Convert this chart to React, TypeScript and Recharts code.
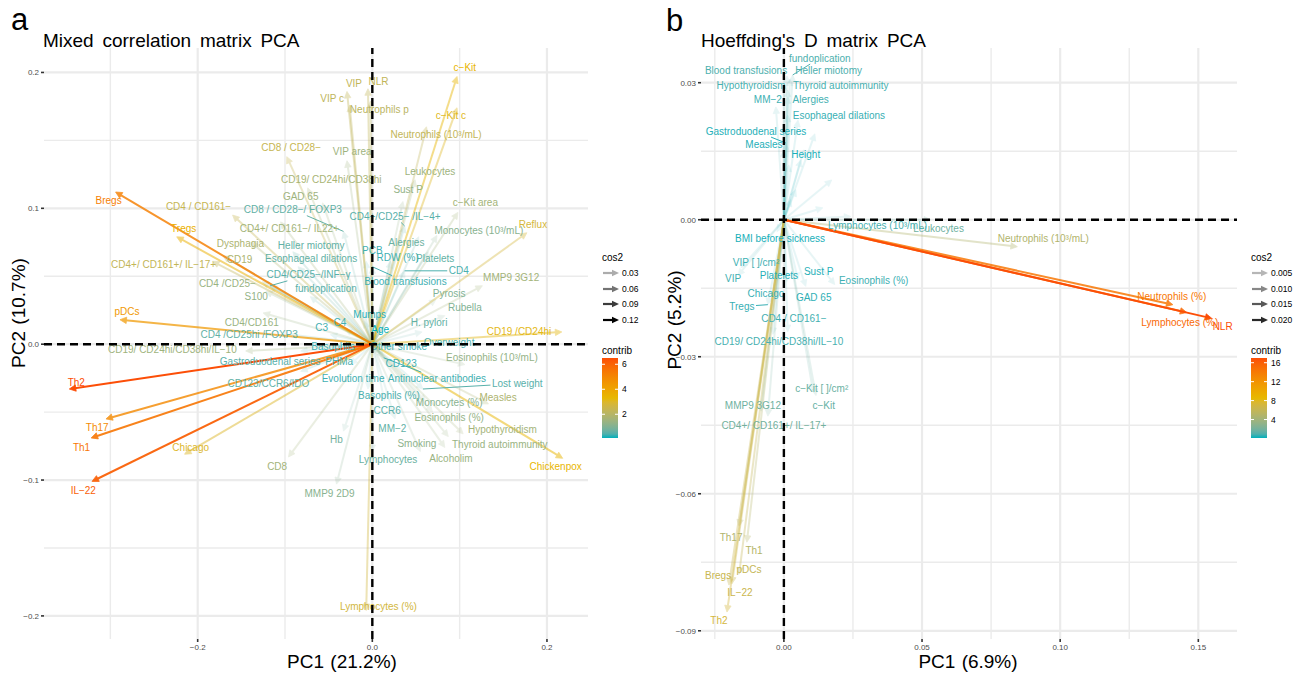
import React from 'react';
import { ScatterChart, Scatter, XAxis, YAxis, ReferenceLine } from 'recharts';

const FONT = '"Liberation Sans", Arial, Helvetica, sans-serif';

// ---------------- Panel a : Mixed correlation matrix PCA ----------------
const namesA = [
  'Bregs', 'Tregs', 'pDCs', 'Th2', 'Th17', 'Th1', 'IL−22', 'Chicago', 'CD8', 'MMP9 2D9',
  'Hb', 'Lymphocytes (%)', 'Lymphocytes', 'Smoking', 'Alcoholim', 'Thyroid autoimmunity', 'Hypothyroidism', 'Eosinophils (%)', 'Monocytes (%)', 'MM−2',
  'CCR6', 'Basophils (%)', 'Measles', 'Lost weight', 'Chickenpox', 'Eosinophils (10³/mL)', 'Antinuclear antibodies', 'CD123', 'Overweight', 'Other smoke',
  'Basophils', 'Evolution time', 'Gastroduodenal series', 'PHMa', 'CD123/CCR6/IDO', 'CD19/ CD24hi/CD38hi/IL−10', 'CD4 /CD25hi /FOXP3', 'CD4/CD161', 'C3', 'C4',
  'Mumps', 'Age', 'H. pylori', 'Rubella', 'Pyrosis', 'MMP9 3G12', 'CD19 /CD24hi', 'CD4', 'Blood transfusions', 'Platelets',
  'RDW (%)', 'PCB', 'Alergies', 'Monocytes (10³/mL)', 'Reflux', 'c−Kit area', 'CD4+/CD25− /IL−4+', 'Sust P', 'Leukocytes', 'Neutrophils (10³/mL)',
  'c−Kit c', 'c−Kit', 'Neutrophils p', 'NLR', 'VIP', 'VIP c', 'VIP area', 'CD19/ CD24hi/CD38hi', 'GAD 65', 'CD8 / CD28−',
  'CD4 / CD161−', 'CD8 / CD28−/ FOXP3', 'CD4+/ CD161−/ IL22+', 'Dysphagia', 'Heller miotomy', 'CD19', 'CD4+/ CD161+/ IL−17+', 'Esophageal dilations', 'CD4 /CD25−', 'CD4/CD25−/INF−γ',
  'fundoplication', 'S100',
];
const pc1A = [
  -0.294, -0.224, -0.289, -0.347, -0.305, -0.322, -0.321, -0.215, -0.096, -0.041,
  -0.033, -0.007, 0.0, 0.055, 0.083, 0.087, 0.104, 0.069, 0.061, 0.026,
  0.014, -0.005, 0.133, 0.058, 0.218, 0.106, 0.013, 0.009, 0.055, 0.026,
  -0.031, -0.025, -0.082, -0.042, -0.082, -0.145, -0.094, -0.125, -0.048, -0.031,
  -0.009, 0.005, 0.057, 0.083, 0.073, 0.126, 0.217, 0.037, 0.0, 0.064,
  0.021, -0.007, 0.053, 0.074, 0.177, 0.098, 0.037, 0.035, 0.049, 0.062,
  0.097, 0.097, -0.002, -0.005, -0.029, -0.026, -0.029, -0.074, -0.057, -0.098,
  -0.16, -0.033, -0.105, -0.139, -0.091, -0.171, -0.183, -0.085, -0.126, -0.117,
  -0.071, -0.122,
];
const pc2A = [
  0.112, 0.079, 0.018, -0.033, -0.055, -0.069, -0.101, -0.081, -0.083, -0.103,
  -0.064, -0.196, -0.079, -0.079, -0.076, -0.068, -0.066, -0.05, -0.042, -0.055,
  -0.042, -0.033, -0.044, -0.033, -0.084, -0.015, -0.01, -0.007, -0.001, -0.004,
  -0.004, -0.015, -0.005, -0.007, -0.02, -0.005, 0.007, 0.023, 0.007, 0.011,
  0.017, 0.007, 0.009, 0.021, 0.033, 0.043, 0.009, 0.054, 0.057, 0.068,
  0.061, 0.061, 0.079, 0.08, 0.082, 0.097, 0.087, 0.105, 0.121, 0.16,
  0.174, 0.197, 0.179, 0.188, 0.186, 0.176, 0.135, 0.115, 0.104, 0.138,
  0.095, 0.083, 0.09, 0.075, 0.068, 0.065, 0.061, 0.057, 0.046, 0.043,
  0.035, 0.039,
];
const contribA = [
  5.2, 3.6, 4.4, 6.5, 4.9, 5.5, 6.1, 3.0, 1.6, 1.1,
  0.8, 2.7, 0.7, 1.2, 1.4, 1.4, 1.6, 1.3, 1.1, 0.6,
  0.5, 0.4, 1.8, 0.5, 3.4, 1.3, 0.3, 0.3, 0.4, 0.3,
  0.3, 0.3, 0.5, 0.4, 0.6, 1.5, 0.6, 1.4, 0.3, 0.3,
  0.2, 0.1, 0.6, 1.0, 1.0, 1.6, 3.2, 0.4, 0.3, 0.6,
  0.3, 0.3, 0.7, 1.1, 2.8, 1.6, 0.5, 1.3, 1.5, 2.3,
  3.1, 3.4, 2.1, 2.3, 2.3, 2.2, 1.5, 1.7, 1.5, 2.4,
  2.4, 0.6, 1.6, 1.8, 0.6, 1.8, 2.3, 0.6, 1.4, 0.5,
  0.5, 1.3,
];
// repelled label anchors (PC1, PC2)
const labelA: ([number, number] | null)[] = [
  [-0.302, 0.106], [-0.216, 0.085], [-0.281, 0.024], [-0.339, -0.028], [-0.315, -0.061], [-0.333, -0.076], [-0.331, -0.108], [-0.208, -0.076], [-0.109, -0.09], [-0.049, -0.11],
  [-0.041, -0.07], [0.007, -0.193], [0.018, -0.085], [0.051, -0.073], [0.09, -0.084], [0.146, -0.074], [0.149, -0.063], [0.088, -0.054], [0.088, -0.043], [0.023, -0.062],
  [0.017, -0.049], [0.019, -0.038], [0.144, -0.039], [0.166, -0.029], [0.21, -0.09], [0.137, -0.01], [0.074, -0.025], [0.033, -0.014], [0.088, 0.001], [0.03, -0.002],
  [-0.045, -0.002], [-0.022, -0.025], [-0.117, -0.013], [-0.038, -0.013], [-0.119, -0.029], [-0.229, -0.004], [-0.141, 0.007], [-0.138, 0.016], [-0.058, 0.012], [-0.037, 0.016],
  [-0.003, 0.022], [0.009, 0.011], [0.065, 0.016], [0.106, 0.027], [0.088, 0.037], [0.159, 0.049], [0.168, 0.009], [0.099, 0.054], [0.038, 0.046], [0.072, 0.063],
  [0.029, 0.064], [0.0, 0.069], [0.039, 0.075], [0.122, 0.084], [0.184, 0.088], [0.118, 0.104], [0.026, 0.094], [0.041, 0.114], [0.066, 0.127], [0.073, 0.154],
  [0.09, 0.168], [0.106, 0.204], [0.008, 0.173], [0.007, 0.193], [-0.021, 0.192], [-0.046, 0.181], [-0.023, 0.142], [-0.047, 0.121], [-0.082, 0.109], [-0.093, 0.145],
  [-0.199, 0.101], [-0.091, 0.099], [-0.095, 0.085], [-0.151, 0.074], [-0.07, 0.073], [-0.152, 0.062], [-0.239, 0.059], [-0.07, 0.063], [-0.166, 0.045], [-0.073, 0.051],
  [-0.053, 0.041], [-0.133, 0.035],
];
const leadersA = ['Lost weight', 'Antinuclear antibodies', 'CD4', 'Blood transfusions', 'CD4+/CD25− /IL−4+', 'CD8 / CD28−/ FOXP3', 'CD4/CD25−/INF−γ'];
const xTicksA = [-0.2, 0, 0.2];
const xMinorA = [-0.3, -0.1, 0.1];
const yTicksA = [-0.2, -0.1, 0, 0.1, 0.2];
const yMinorA = [-0.15, -0.05, 0.05, 0.15];
const cos2BreaksA = [0.03, 0.06, 0.09, 0.12];
const contribBreaksA = [2, 4, 6];

// ---------------- Panel b : Hoeffding's D matrix PCA ----------------
const namesB = [
  'NLR', 'Lymphocytes (%)', 'Neutrophils (%)', 'Neutrophils (10³/mL)', 'Leukocytes', 'Lymphocytes (10³/mL)', 'BMI before sickness', 'VIP [ ]/cm²', 'VIP', 'Platelets',
  'Sust P', 'Eosinophils (%)', 'Chicago', 'GAD 65', 'Tregs', 'CD4 / CD161−', 'CD19/ CD24hi/CD38hi/IL−10', 'c−Kit [ ]/cm²', 'c−Kit', 'MMP9 3G12',
  'CD4+/ CD161+/ IL−17+', 'Th17', 'Th1', 'pDCs', 'Bregs', 'IL−22', 'Th2', 'fundoplication', 'Blood transfusions', 'Heller miotomy',
  'Hypothyroidism', 'Thyroid autoimmunity', 'MM−2', 'Alergies', 'Esophageal dilations', 'Gastroduodenal series', 'Measles', 'Height', '', '',
  '', '', '', '', '', '',
];
const pc1B = [
  0.1549, 0.1458, 0.1408, 0.0845, 0.0531, 0.0242, -0.0025, -0.0155, -0.0166, 0.0011,
  0.0051, 0.0184, -0.0032, 0.0079, -0.0058, 0.0014, -0.004, 0.0116, 0.0105, -0.0083,
  -0.0058, -0.0162, -0.0134, -0.0162, -0.0188, -0.0199, -0.0206, 0.0032, 0.0011, 0.0022,
  0.0, 0.0014, -0.0029, 0.0014, 0.0014, 0.0007, 0.0, 0.0018, 0.0112, 0.0173,
  0.0141, 0.0061, 0.0043, 0.0051, 0.0072, 0.0025,
];
const pc2B = [
  -0.0216, -0.0203, -0.0186, -0.0059, 0.0, 0.0007, -0.0026, -0.0105, -0.0122, -0.0135,
  -0.0131, -0.0142, -0.0175, -0.0146, -0.0186, -0.0245, -0.0251, -0.0385, -0.0374, -0.0419,
  -0.043, -0.0671, -0.0706, -0.0776, -0.0797, -0.08, -0.0859, 0.0317, 0.0315, 0.0308,
  0.0297, 0.0284, 0.0247, 0.0269, 0.0229, 0.0168, 0.0153, 0.012, 0.0188, 0.0087,
  0.0026, 0.0131, 0.0066, 0.0218, 0.0153, 0.0044,
];
const contribB = [
  17.0, 15.3, 14.3, 4.8, 1.8, 0.8, 0.2, 0.6, 0.7, 0.3,
  0.3, 0.6, 0.5, 0.4, 0.5, 0.7, 0.8, 1.6, 1.5, 1.8,
  1.9, 4.8, 5.0, 6.0, 6.3, 6.4, 7.1, 0.9, 0.9, 0.9,
  0.8, 0.8, 0.6, 0.7, 0.5, 0.3, 0.3, 0.2, 0.4, 0.4,
  0.3, 0.2, 0.1, 0.4, 0.3, 0.1,
];
const labelB: ([number, number] | null)[] = [
  [0.1588, -0.0234], [0.1433, -0.0225], [0.1404, -0.0168], [0.0939, -0.0042], [0.056, -0.002], [0.0339, -0.0013], [-0.0014, -0.0042], [-0.0101, -0.0094], [-0.0184, -0.0129], [-0.0018, -0.0122],
  [0.0126, -0.0114], [0.0325, -0.0133], [-0.0065, -0.0162], [0.0108, -0.017], [-0.0152, -0.019], [0.0036, -0.0216], [-0.0018, -0.0267], [0.0137, -0.0369], [0.0144, -0.0406], [-0.0112, -0.0406],
  [-0.0036, -0.045], [-0.0191, -0.0695], [-0.0108, -0.0725], [-0.0126, -0.0765], [-0.0238, -0.0778], [-0.0159, -0.0817], [-0.0235, -0.0878], [0.013, 0.0354], [-0.0137, 0.0326], [0.0162, 0.0326],
  [-0.0119, 0.0293], [0.0206, 0.0293], [-0.0058, 0.0264], [0.0097, 0.0264], [0.0199, 0.0229], [-0.0101, 0.0194], [-0.0072, 0.0164], [0.0079, 0.0142], null, null,
  null, null, null, null, null, null,
];
const leadersB = ['fundoplication', 'Tregs', 'Gastroduodenal series'];
const xTicksB = [0, 0.05, 0.1, 0.15];
const xMinorB = [-0.025, 0.025, 0.075, 0.125];
const yTicksB = [-0.09, -0.06, -0.03, 0, 0.03];
const yMinorB = [-0.075, -0.045, -0.015, 0.015];
const cos2BreaksB = [0.005, 0.01, 0.015, 0.02];
const contribBreaksB = [4, 8, 12, 16];

// ---------------- colour helpers (Lab interpolation like ggplot) ----------------
const hexRgb = (h: string) => [parseInt(h.slice(1, 3), 16), parseInt(h.slice(3, 5), 16), parseInt(h.slice(5, 7), 16)];
const lin = (c: number) => { c /= 255; return c <= 0.04045 ? c / 12.92 : Math.pow((c + 0.055) / 1.055, 2.4); };
const XN = 0.95047, YN = 1, ZN = 1.08883;
function toLab(rgb: number[]) {
  const [R, G, B] = rgb.map(lin);
  const X = (R * 0.4124 + G * 0.3576 + B * 0.1805) / XN;
  const Y = (R * 0.2126 + G * 0.7152 + B * 0.0722) / YN;
  const Z = (R * 0.0193 + G * 0.1192 + B * 0.9505) / ZN;
  const f = (t: number) => (t > 0.008856 ? Math.cbrt(t) : 7.787 * t + 16 / 116);
  const fx = f(X), fy = f(Y), fz = f(Z);
  return [116 * fy - 16, 500 * (fx - fy), 200 * (fy - fz)];
}
function fromLab(lab: number[]) {
  const [L, a, b] = lab;
  const fy = (L + 16) / 116, fx = fy + a / 500, fz = fy - b / 200;
  const inv = (t: number) => (t * t * t > 0.008856 ? t * t * t : (t - 16 / 116) / 7.787);
  const X = XN * inv(fx), Y = YN * inv(fy), Z = ZN * inv(fz);
  const r = 3.2406 * X - 1.5372 * Y - 0.4986 * Z;
  const g = -0.9689 * X + 1.8758 * Y + 0.0415 * Z;
  const bb = 0.0557 * X - 0.204 * Y + 1.057 * Z;
  const gam = (c: number) => {
    const v = c <= 0.0031308 ? 12.92 * c : 1.055 * Math.pow(c, 1 / 2.4) - 0.055;
    return Math.round(Math.max(0, Math.min(1, v)) * 255);
  };
  return `rgb(${gam(r)},${gam(g)},${gam(bb)})`;
}
const STOPS = ['#00AFBB', '#E7B800', '#FC4E07'].map((h) => toLab(hexRgb(h)));
function gradColor(t: number) {
  const tt = Math.max(0, Math.min(1, t)) * 2;
  const i = Math.min(1, Math.floor(tt));
  const f = tt - i;
  const a = STOPS[i], b = STOPS[i + 1];
  return fromLab([a[0] + (b[0] - a[0]) * f, a[1] + (b[1] - a[1]) * f, a[2] + (b[2] - a[2]) * f]);
}

let ctx: CanvasRenderingContext2D | null = null;
function textWidth(s: string, size: number) {
  if (!ctx && typeof document !== 'undefined') ctx = document.createElement('canvas').getContext('2d');
  if (!ctx) return s.length * size * 0.5;
  ctx.font = `${size}px ${FONT}`;
  return ctx.measureText(s).width;
}

function stats(pc1: number[], pc2: number[], contrib: number[]) {
  const cos2 = pc1.map((x, i) => x * x + pc2[i] * pc2[i]);
  const cMin = Math.min(...cos2), cMax = Math.max(...cos2);
  const kMin = Math.min(...contrib), kMax = Math.max(...contrib);
  return {
    cos2, kMin, kMax,
    alphaOf: (v: number) => 0.1 + 0.9 * Math.max(0, Math.min(1, (v - cMin) / (cMax - cMin))),
    colorOf: (k: number) => gradColor((k - kMin) / (kMax - kMin)),
  };
}

const arrowShape = (color: string, alpha: number) => (p: any) => {
  const x1 = Number(p.x1), y1 = Number(p.y1), x2 = Number(p.x2), y2 = Number(p.y2);
  const dx = x2 - x1, dy = y2 - y1;
  const len = Math.hypot(dx, dy) || 1;
  const ux = dx / len, uy = dy / len;
  const L = 6.5, W = 3.2;
  const bx = x2 - ux * L, by = y2 - uy * L;
  const pts = `${x2},${y2} ${bx - uy * W},${by + ux * W} ${bx + uy * W},${by - ux * W}`;
  return (
    <g opacity={alpha}>
      <line x1={x1} y1={y1} x2={bx + ux * 1} y2={by + uy * 1} stroke={color} strokeWidth={2} />
      <polygon points={pts} fill={color} stroke={color} strokeWidth={0.8} strokeLinejoin="round" />
    </g>
  );
};

const leaderShape = (name: string, color: string) => (p: any) => {
  const x1 = Number(p.x1), y1 = Number(p.y1), x2 = Number(p.x2), y2 = Number(p.y2);
  const hw = textWidth(name, 10) / 2 + 1.5, hh = 6;
  const dx = x1 - x2, dy = y1 - y2;
  const t = Math.min(dx !== 0 ? hw / Math.abs(dx) : Infinity, dy !== 0 ? hh / Math.abs(dy) : Infinity);
  if (!(t < 1)) return <g />;
  return <line x1={x2 + dx * t} y1={y2 + dy * t} x2={x1} y2={y1} stroke={color} strokeWidth={1} />;
};

type PanelProps = {
  left: number; width: number; height: number;
  margin: { top: number; right: number; bottom: number; left: number };
  xDomain: [number, number]; yDomain: [number, number];
  xTicks: number[]; yTicks: number[]; xMinor: number[]; yMinor: number[];
  digits: number;
  names: string[]; pc1: number[]; pc2: number[]; contrib: number[];
  labels: ([number, number] | null)[]; leaders: string[];
};

const fmt = (d: number) => (v: number) => (v < -1e-9 ? '−' : '') + Math.abs(v).toFixed(d);

function Panel(props: PanelProps) {
  const { names, pc1, pc2, contrib, labels, leaders } = props;
  const st = stats(pc1, pc2, contrib);
  const order = names.map((_, i) => i).sort((a, b) => st.cos2[a] - st.cos2[b]);
  const labelData = names
    .map((n, i) => (labels[i] && n ? { x: labels[i]![0], y: labels[i]![1], name: n, color: st.colorOf(contrib[i]) } : null))
    .filter(Boolean) as any[];
  const gridColor = '#EBEBEB';
  return (
    <div style={{ position: 'absolute', left: props.left, top: 0 }}>
      <ScatterChart width={props.width} height={props.height} margin={props.margin} style={{ fontFamily: FONT }}>
        <XAxis
          type="number" dataKey="x" domain={props.xDomain} allowDataOverflow ticks={props.xTicks} interval={0}
          tickFormatter={fmt(props.digits)} axisLine={false} tickLine={{ stroke: '#333', strokeWidth: 1.6 }}
          tickSize={3} tickMargin={2} height={1} tick={{ fontSize: 8, fill: '#4D4D4D', fontFamily: FONT }}
        />
        <YAxis
          type="number" dataKey="y" domain={props.yDomain} allowDataOverflow ticks={props.yTicks} interval={0}
          tickFormatter={fmt(props.digits)} axisLine={false} tickLine={{ stroke: '#333', strokeWidth: 1.6 }}
          tickSize={3} tickMargin={2} width={1} tick={{ fontSize: 8, fill: '#4D4D4D', fontFamily: FONT }}
        />
        {props.xMinor.map((v) => <ReferenceLine key={'xm' + v} x={v} stroke={gridColor} strokeWidth={1.4} />)}
        {props.yMinor.map((v) => <ReferenceLine key={'ym' + v} y={v} stroke={gridColor} strokeWidth={1.4} />)}
        {props.xTicks.map((v) => <ReferenceLine key={'xM' + v} x={v} stroke={gridColor} strokeWidth={2.2} />)}
        {props.yTicks.map((v) => <ReferenceLine key={'yM' + v} y={v} stroke={gridColor} strokeWidth={2.2} />)}
        {order.map((i) => (
          <ReferenceLine
            key={'arr' + i}
            segment={[{ x: 0, y: 0 }, { x: pc1[i], y: pc2[i] }]}
            ifOverflow="visible"
            shape={arrowShape(st.colorOf(contrib[i]), st.alphaOf(st.cos2[i]))}
          />
        ))}
        {names.map((n, i) =>
          leaders.includes(n) && labels[i] ? (
            <ReferenceLine
              key={'ld' + i}
              segment={[{ x: pc1[i], y: pc2[i] }, { x: labels[i]![0], y: labels[i]![1] }]}
              ifOverflow="visible"
              shape={leaderShape(n, st.colorOf(contrib[i]))}
            />
          ) : null,
        )}
        <Scatter
          data={labelData}
          isAnimationActive={false}
          shape={(p: any) => {
            const d = p.payload || p;
            return (
              <text x={p.cx} y={p.cy} textAnchor="middle" dominantBaseline="central" fontSize={10} fontFamily={FONT} fill={d.color}>
                {d.name}
              </text>
            );
          }}
        />
        <ReferenceLine x={0} stroke="#000" strokeWidth={2.4} strokeDasharray="8 5" {...({ zIndex: 1000 } as any)} />
        <ReferenceLine y={0} stroke="#000" strokeWidth={2.4} strokeDasharray="8 5" {...({ zIndex: 1000 } as any)} />
      </ScatterChart>
    </div>
  );
}

function Legend(props: { x: number; breaks: number[]; cbreaks: number[]; pc1: number[]; pc2: number[]; contrib: number[]; digits: number }) {
  const st = stats(props.pc1, props.pc2, props.contrib);
  const rows = [273, 289, 304, 320];
  const barTop = 358, barH = 80, barW = 16;
  const stops = Array.from({ length: 21 }, (_, i) => i / 20);
  const id = 'grad' + props.x;
  const yOf = (v: number) => barTop + barH - ((v - st.kMin) / (st.kMax - st.kMin)) * barH;
  const x = props.x;
  return (
    <g fontFamily={FONT}>
      <defs>
        <linearGradient id={id} x1="0" y1="1" x2="0" y2="0">
          {stops.map((s) => <stop key={s} offset={s} stopColor={gradColor(s)} />)}
        </linearGradient>
      </defs>
      <text x={x} y={261} fontSize={10} fill="#000">cos2</text>
      {props.breaks.map((b, i) => {
        const y = rows[i];
        const a = st.alphaOf(b);
        return (
          <g key={b}>
            <g opacity={a}>
              <line x1={x + 1} y1={y} x2={x + 11} y2={y} stroke="#000" strokeWidth={2.2} />
              <polygon points={`${x + 17},${y} ${x + 10},${y - 3.3} ${x + 10},${y + 3.3}`} fill="#000" />
            </g>
            <text x={x + 20} y={y + 3} fontSize={8.5} fill="#000">{b.toFixed(props.digits)}</text>
          </g>
        );
      })}
      <text x={x} y={354} fontSize={10} fill="#000">contrib</text>
      <rect x={x} y={barTop} width={barW} height={barH} fill={`url(#${id})`} />
      {props.cbreaks.map((c) => (
        <g key={c}>
          <line x1={x} x2={x + 3} y1={yOf(c)} y2={yOf(c)} stroke="#fff" strokeWidth={1} />
          <line x1={x + barW - 3} x2={x + barW} y1={yOf(c)} y2={yOf(c)} stroke="#fff" strokeWidth={1} />
          <text x={x + barW + 4} y={yOf(c) + 3} fontSize={8.5} fill="#000">{c}</text>
        </g>
      ))}
    </g>
  );
}

export default function App() {
  return (
    <div style={{ position: 'absolute', left: 0, top: 0, width: 1304, height: 676, background: '#fff', fontFamily: FONT }}>
      <Panel
        left={0} width={600} height={676} margin={{ top: 48, right: 12, bottom: 36, left: 43 }}
        xDomain={[-0.376, 0.247]} yDomain={[-0.217, 0.218]}
        xTicks={xTicksA} yTicks={yTicksA} xMinor={xMinorA} yMinor={yMinorA} digits={1}
        names={namesA} pc1={pc1A} pc2={pc2A} contrib={contribA} labels={labelA} leaders={leadersA}
      />
      <Panel
        left={657} width={600} height={676} margin={{ top: 48, right: 20, bottom: 36, left: 43 }}
        xDomain={[-0.03, 0.164]} yDomain={[-0.0918, 0.0376]}
        xTicks={xTicksB} yTicks={yTicksB} xMinor={xMinorB} yMinor={yMinorB} digits={2}
        names={namesB} pc1={pc1B} pc2={pc2B} contrib={contribB} labels={labelB} leaders={leadersB}
      />
      <svg width={1304} height={676} style={{ position: 'absolute', left: 0, top: 0, pointerEvents: 'none' }}>
        <text x={11} y={30} fontSize={31} fill="#000" fontFamily={FONT}>a</text>
        <text x={43} y={47} fontSize={19} fill="#000" fontFamily={FONT} style={{ wordSpacing: 3.5 }}>Mixed correlation matrix PCA</text>
        <text x={666} y={31} fontSize={31} fill="#000" fontFamily={FONT}>b</text>
        <text x={701} y={47} fontSize={19} fill="#000" fontFamily={FONT} style={{ wordSpacing: 3.5 }}>Hoeffding's D matrix PCA</text>
        <text x={342} y={668} fontSize={19} textAnchor="middle" fill="#000" fontFamily={FONT} style={{ wordSpacing: 1 }}>PC1 (21.2%)</text>
        <text x={968} y={668} fontSize={19} textAnchor="middle" fill="#000" fontFamily={FONT} style={{ wordSpacing: 1 }}>PC1 (6.9%)</text>
        <text transform="translate(25,313) rotate(-90)" fontSize={19} textAnchor="middle" fill="#000" fontFamily={FONT} style={{ wordSpacing: 1 }}>PC2 (10.7%)</text>
        <text transform="translate(681,320) rotate(-90)" fontSize={19} textAnchor="middle" fill="#000" fontFamily={FONT} style={{ wordSpacing: 1 }}>PC2 (5.2%)</text>
        <Legend x={602} breaks={cos2BreaksA} cbreaks={contribBreaksA} pc1={pc1A} pc2={pc2A} contrib={contribA} digits={2} />
        <Legend x={1251} breaks={cos2BreaksB} cbreaks={contribBreaksB} pc1={pc1B} pc2={pc2B} contrib={contribB} digits={3} />
      </svg>
    </div>
  );
}
